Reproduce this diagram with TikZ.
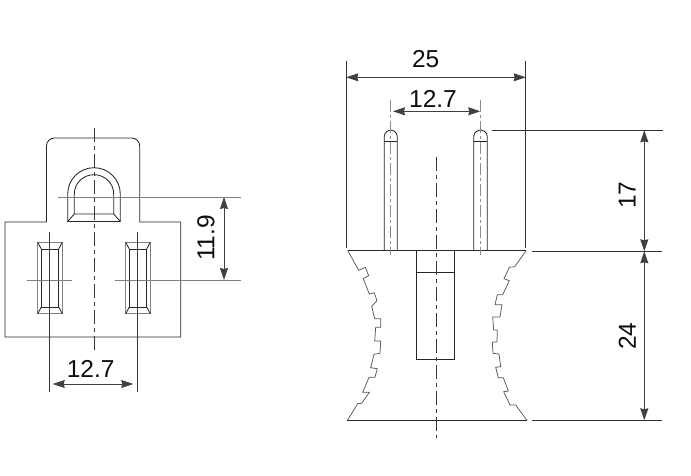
\documentclass[tikz,border=0pt]{standalone}
\usepackage{fontspec}
\setmainfont{Liberation Sans}
\usetikzlibrary{arrows.meta}
\tikzset{
    outline/.style={draw=black!85,line width=0.85pt},
    grayline/.style={draw=black!50,line width=1pt},
    profile/.style={draw=black!65,line width=0.75pt},
    center/.style={draw=black!80,line width=0.75pt,dash pattern=on 14pt off 4pt on 4pt off 4pt},
    pinaxis/.style={draw=black!45,line width=0.9pt,dash pattern=on 12pt off 3pt on 3pt off 3pt},
    witness/.style={draw=black!80,line width=0.85pt},
    dimen/.style={draw=black!75,line width=0.85pt,{Stealth[length=12pt,width=8pt,inset=1pt]}-{Stealth[length=12pt,width=8pt,inset=1pt]}},
    dimtext/.style={font=\fontsize{24.5}{26}\selectfont,inner sep=0pt,text=black!95}
}
\begin{document}
\begin{tikzpicture}[x=1pt,y=-1pt]
        \useasboundingbox (0,0) rectangle (691,476);

        % Front View
        \draw[outline] (5,222) -- (46.5,222) -- (46.5,146) arc[start angle=180,end angle=270,radius=8] -- (131.7,138)
            arc[start angle=270,end angle=360,radius=8] -- (139.7,222) -- (180.7,222) -- (180.7,337) -- (5,337) -- cycle;
        \draw[center] (94.3,128) -- (94.3,350);

        % Ground Hole
        \draw[outline] (67.7,221.5) -- (67.7,194) arc[start angle=180,end angle=360,x radius=26.3,y radius=26.3] -- (120.3,221.5) -- cycle;
        \draw[outline] (74.3,214) -- (74.3,194) arc[start angle=180,end angle=360,x radius=19.7,y radius=19.3] -- (113.7,214) -- cycle;
        \draw[outline] (67.7,221.5) -- (74.3,214) (120.3,221.5) -- (113.7,214);

        % Slots
        \foreach \slotx in {50,138}{
            \draw[grayline] (\slotx-12.3,242.3) rectangle (\slotx+12.3,313.7);
            \draw[outline] (\slotx-8.7,249) rectangle (\slotx+8.7,307);
            \draw[outline] (\slotx-12.3,242.3) -- (\slotx-8.7,249) (\slotx+12.3,242.3) -- (\slotx+8.7,249);
            \draw[outline] (\slotx-12.3,313.7) -- (\slotx-8.7,307) (\slotx+12.3,313.7) -- (\slotx+8.7,307);
        }

        % Dimension 11.9
        \draw[grayline] (58,197) -- (240.7,197);
        \draw[grayline] (26.7,280) -- (71.7,280);
        \draw[grayline] (114.7,280) -- (240.7,280);
        \coordinate (holetop) at (224,197);
        \coordinate (holebot) at (224,280);
        \draw[dimen] (holetop) -- (holebot);
        \node[dimtext,rotate=90] (dimhole) at (206,238) {11.9};

        % Dimension 12.7 Front
        \coordinate (slotleft) at (49.7,384);
        \coordinate (slotright) at (137.3,384);
        \draw[witness] (49.7,231.7) -- (49.7,392.3);
        \draw[witness] (137.3,231.7) -- (137.3,392.3);
        \draw[dimen,shorten <=3pt,shorten >=4pt] (slotleft) -- (slotright);
        \node[dimtext] (dimslot) at (90.7,369) {12.7};

        % Side View
        \draw[outline] (347.7,250.5) -- (526.3,250.5);
        \draw[profile] (347.7,250.5) -- (358.7,270.3) -- (365.3,267.3) -- (368.7,275.7) -- (363.3,278.7) -- (369.3,294)
            -- (374.3,292.7) -- (377,300.7) -- (371.7,306.3) -- (374.7,318.7) -- (380.7,318.7) -- (380.7,327.3)
            -- (375.7,327.3) -- (374.7,341) -- (380.7,341) -- (380,353.3) -- (374,354.3) -- (370.7,367.7)
            -- (377.3,368.7) -- (375,377.3) -- (369,377.3) -- (362.7,392.3) -- (369.3,392.3) -- (361.7,403.3)
            -- (357.7,403.7) -- (347.3,420.5);
        \draw[profile] (526.3,250.5) -- (514.7,266.7) -- (509.3,267.3) -- (504,278.7) -- (509.3,280.7) -- (502.7,294.7)
            -- (497.3,294.7) -- (495,304.7) -- (502,304.7) -- (500,317) -- (492.7,317) -- (493.7,330) -- (497.3,330)
            -- (497,341.7) -- (492.3,342.3) -- (493,353.3) -- (499,354) -- (500.7,366.7) -- (495.7,367.3)
            -- (498.3,377.7) -- (503.3,377.7) -- (508.3,391) -- (503.7,391.7) -- (510,405) -- (515.7,405) -- (527,420.5);
        \draw[outline] (347.3,420.5) -- (527,420.5);
        \draw[outline] (416.7,250.5) rectangle (454.3,359.3);
        \draw[outline] (416.7,272.3) -- (454.3,272.3);
        \draw[center] (436.3,157.3) -- (436.3,438.3);

        % Pins
        \foreach \pinl/\pinr/\pinx in {384.3/397.3/390.7,473.7/487.3/480.7}{
            \draw[outline] (\pinl,250.5) -- (\pinl,136.5) .. controls (\pinl,132) and (\pinx-2,130) .. (\pinx,130)
                .. controls (\pinx+2,130) and (\pinr,132) .. (\pinr,136.5) -- (\pinr,250.5);
            \draw[outline] (\pinl,141) -- (\pinr,141);
            \draw[pinaxis] (\pinx,100) -- (\pinx,255);
        }

        % Dimension 25
        \coordinate (bodyleft) at (346.3,77.3);
        \coordinate (bodyright) at (525.7,77.3);
        \draw[witness] (346.3,60.7) -- (346.3,248);
        \draw[witness] (525.7,60.7) -- (525.7,248);
        \draw[dimen] (bodyleft) -- (bodyright);
        \node[dimtext] (dimbody) at (425.7,59) {25};

        % Dimension 12.7 Side
        \coordinate (pinleft) at (393,111.3);
        \coordinate (pinright) at (480.3,111.3);
        \draw[dimen] (pinleft) -- (pinright);
        \node[dimtext] (dimpin) at (433,98.7) {12.7};

        % Dimensions 17 and 24
        \coordinate (pintop) at (644.3,130.3);
        \coordinate (pinbot) at (644.3,251.3);
        \coordinate (basebot) at (644.3,420.3);
        \draw[witness] (491.7,130.3) -- (662.7,130.3);
        \draw[witness] (531.7,251.3) -- (662,251.3);
        \draw[witness] (531.7,420.3) -- (662,420.3);
        \draw[dimen] (pintop) -- (pinbot);
        \draw[dimen] (pinbot) -- (basebot);
        \node[dimtext,rotate=90] (dimpinlen) at (627.3,195) {17};
        \node[dimtext,rotate=90] (dimbase) at (627.3,336) {24};
    \end{tikzpicture}
\end{document}
